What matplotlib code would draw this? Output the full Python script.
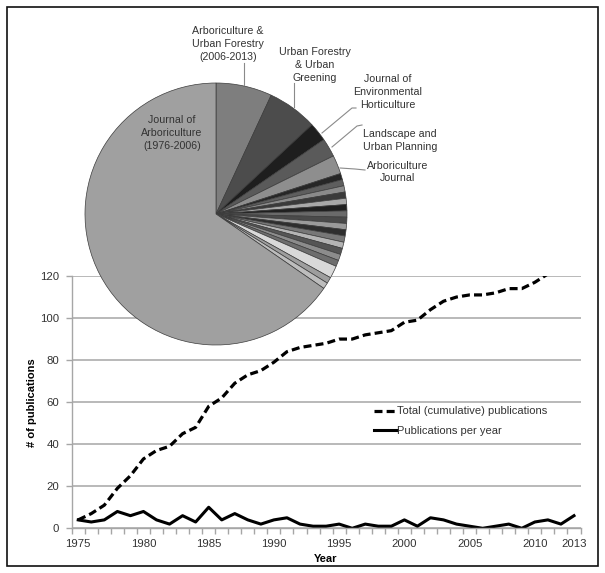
import matplotlib
matplotlib.use("Agg")
import matplotlib.pyplot as plt
from matplotlib.lines import Line2D
from matplotlib.patches import Rectangle
import numpy as np

plt.rcParams['font.family'] = ['Liberation Sans', 'DejaVu Sans']

# ---------------- data ----------------
years = list(range(1975, 2014))
per_year = [4, 3, 4, 8, 6, 8, 4, 2, 6, 3,
            10, 4, 7, 4, 2, 4, 5, 2, 1, 1,
            2, 0, 2, 1, 1, 4, 1, 5, 4, 2,
            1, 0, 1, 2, 0, 3, 4, 2, 6]
cumulative = list(np.cumsum(per_year))

pie_labels = ["Arboriculture &\nUrban Forestry\n(2006-2013)",
              "Urban Forestry\n& Urban\nGreening",
              "Journal of\nEnvironmental\nHorticulture",
              "Landscape and\nUrban Planning",
              "Arboriculture\nJournal"]
pie_named = [9, 8, 3, 3, 3]
pie_small = [1, 1, 1, 1, 1, 1, 1, 1, 1, 1, 1, 1, 1, 1, 1, 2, 1, 1]
pie_main_label = "Journal of\nArboriculture\n(1976-2006)"
pie_main = 85

xtick_years = [1975, 1980, 1985, 1990, 1995, 2000, 2005, 2010, 2013]
yticks = [0, 20, 40, 60, 80, 100, 120]

# ---------------- figure ----------------
W, H = 605, 573
fig = plt.figure(figsize=(W / 100, H / 100), dpi=100)


def fx(x):
    return x / W


def fy(y):
    return 1 - y / H


# border
fig.patches.append(Rectangle((fx(7), fy(566)), fx(598) - fx(7), fy(7) - fy(566),
                             transform=fig.transFigure, fill=False,
                             edgecolor='#111111', linewidth=1.2))

# ---------------- line chart ----------------
L, R, T, B = 71.7, 580.5, 276, 528.3
ax = fig.add_axes([fx(L), fy(B), fx(R) - fx(L), fy(T) - fy(B)])
ax.set_xlim(1974.5, 2013.5)
ax.set_ylim(0, 120)
grid_c = '#a6a6a6'
for s in ['top', 'right']:
    ax.spines[s].set_visible(False)
ax.spines['left'].set_color(grid_c)
ax.spines['bottom'].set_color(grid_c)
ax.spines['left'].set_linewidth(1.0)
ax.spines['bottom'].set_linewidth(1.0)
ax.set_yticks(yticks)
ax.yaxis.grid(True, color=grid_c, linewidth=1.1)
ax.set_axisbelow(True)
ax.set_xticks(xtick_years)
ax.set_xticks(np.arange(1974.5, 2014, 1.0), minor=True)
ax.tick_params(axis='x', which='major', length=0, pad=8, labelsize=8.2, labelcolor='#333333')
ax.tick_params(axis='x', which='minor', length=4, color=grid_c, width=1.0)
ax.tick_params(axis='y', length=4, color=grid_c, width=1.0, pad=5, labelsize=8.2, labelcolor='#333333')

ax.plot(years, cumulative, color='black', linewidth=2.3, linestyle=(0, (2.5, 1.3)),
        label='Total (cumulative) publications', solid_capstyle='butt', dash_capstyle='butt')
ax.plot(years, per_year, color='black', linewidth=2.2, label='Publications per year')

ax.set_xlabel('Year', fontsize=8, fontweight='bold', labelpad=3)
ax.set_ylabel('# of publications', fontsize=8, fontweight='bold', labelpad=2)

leg = ax.legend(loc='upper left', bbox_to_anchor=((370 - L) / (R - L), (B - 402) / (B - T)),
                frameon=False, fontsize=8, handlelength=2.0, handletextpad=0.05,
                labelspacing=0.85, borderaxespad=0)
for t in leg.get_texts():
    t.set_color('#333333')

# ---------------- pie ----------------
cx, cy, r = 216, 214, 131
pax = fig.add_axes([fx(cx - r), fy(cy + r), fx(2 * r), (2 * r) / H])
values = pie_named + pie_small + [pie_main]
named_colors = ['#7e7e7e', '#4c4c4c', '#1e1e1e', '#5a5a5a', '#8e8e8e']
small_colors = ['#262626', '#5e5e5e', '#8a8a8a', '#3a3a3a', '#a8a8a8', '#202020',
                '#6a6a6a', '#4a4a4a', '#9a9a9a', '#2e2e2e', '#777777', '#b4b4b4',
                '#555555', '#8c8c8c', '#6e6e6e', '#d9d9d9', '#9e9e9e', '#bdbdbd']
colors = named_colors + small_colors + ['#a0a0a0']
pax.pie(values, colors=colors, startangle=90, counterclock=False, radius=1,
        wedgeprops=dict(edgecolor='#3c3c3c', linewidth=0.5))
pax.set_xlim(-1.0, 1.0)
pax.set_ylim(-1.0, 1.0)
pax.set_aspect('equal')
pax.axis('off')

# pie labels
tc = '#333333'
fs = 7.7
fig.text(fx(172), fy(133), pie_main_label, ha='center', va='center', fontsize=fs,
         color=tc, linespacing=1.32)
label_pos = [(228, 44), (315, 65), (388, 92), (400, 140.5), (398, 172)]
for (x, y), lab in zip(label_pos, pie_labels):
    fig.text(fx(x), fy(y), lab, ha='center', va='center', fontsize=fs, color=tc,
             linespacing=1.32)

leaders = [[(244, 63), (244, 85)],
           [(294, 83), (294, 107)],
           [(356, 108), (352, 108), (322, 133)],
           [(362, 125), (357, 126), (332, 147)],
           [(365, 170), (355, 169), (340, 168)]]
for pts in leaders:
    xs = [fx(p[0]) for p in pts]
    ys = [fy(p[1]) for p in pts]
    fig.add_artist(Line2D(xs, ys, transform=fig.transFigure, color='#8a8a8a', linewidth=0.8))

fig.savefig('out.png', dpi=100)
